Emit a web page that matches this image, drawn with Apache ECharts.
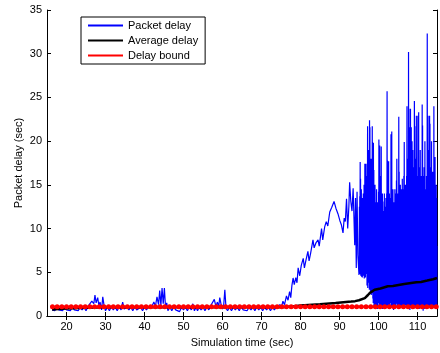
<!DOCTYPE html>
<html>
<head>
<meta charset="utf-8">
<script src="https://cdn.jsdelivr.net/npm/echarts@6/dist/echarts.min.js"></script>
<style>
html,body{margin:0;padding:0;background:#fff;}
#chart{width:440px;height:353px;}
</style>
</head>
<body>
<div id="chart"></div>
<script>
// x ticks / y ticks
const xTicks = [20, 30, 40, 50, 60, 70, 80, 90, 100, 110];
const yTicks = [0, 5, 10, 15, 20, 25, 30, 35];

// Packet delay, quiet period [time, delay]
const packetBase = [
 [16.3,0.7],[16.5,0.9],[17,0.6],[17.5,1.0],[18,0.7],[18.5,0.9],[19,0.6],[19.5,1.0],[20,0.7],[20.5,0.9],
 [21,0.6],[21.5,1.1],[22,0.7],[22.5,0.9],[23,0.6],[23.5,1.0],[24,0.7],[24.5,1.0],[25,0.6],[25.5,1.1],
 [26,1.3],[26.5,1.7],[27,1.4],[27.3,2.4],[27.6,1.5],[28,2.1],[28.3,1.2],[28.6,1.6],[29,0.7],[29.3,2.2],
 [29.6,1.3],[30,0.6],[30.5,1.0],[31,0.6],[31.5,1.1],[32,0.7],[32.5,1.0],[33,0.6],[33.5,1.1],[34,0.7],
 [34.4,1.6],[34.8,0.8],[35.2,0.6],[35.6,1.0],[36,0.7],[36.5,1.0],[37,0.6],[37.5,1.1],[38,0.7],[38.5,0.5],
 [39,1.0],[39.5,0.6],[40,1.0],[40.5,0.7],[41,1.0],[41.5,0.8],[42,1.2],[42.4,1.6],[42.8,1.1],[43.2,2.2],
 [43.6,1.3],[43.9,2.9],[44.2,1.2],[44.5,3.2],[44.8,1.4],[45.1,3.2],[45.4,0.9],[45.7,1.5],[46,0.6],[46.5,1.0],
 [47,0.6],[47.5,1.1],[48,0.7],[48.5,0.9],[49,0.5],[49.5,1.0],[50,0.7],[50.5,1.0],[51,0.6],[51.5,1.1],
 [52,0.7],[52.4,1.4],[52.8,0.6],[53.2,1.0],[53.6,0.6],[54,1.0],[54.5,0.7],[55,1.0],[55.5,0.6],[56,1.1],
 [56.5,0.7],[57,1.2],[57.5,1.0],[57.9,1.9],[58.3,1.1],[58.7,1.6],[59,1.0],[59.3,2.1],[59.7,1.2],[60,0.8],
 [60.3,1.2],[60.6,3.0],[60.9,0.9],[61.3,0.6],[61.8,1.0],[62.3,0.6],[62.8,1.0],[63.3,0.7],[63.8,1.0],[64.3,0.6],
 [64.8,1.1],[65.3,0.7],[65.8,0.9],[66.3,0.6],[66.8,1.0],[67.3,0.7],[67.8,1.0],[68.3,0.6],[68.8,1.1],[69.3,0.7],
 [69.8,1.0],[70.3,0.6],[70.8,1.0],[71.3,0.7],[71.8,1.0],[72.3,0.6],[72.8,1.0],[73.3,0.7],[73.8,1.0],[74.3,0.9],
 [74.7,1.3]
];

// Packet delay, ramp-up period
const packetRamp = [
 [75.1,1.0],[75.5,1.7],[75.9,1.3],[76.4,2.3],[76.8,1.8],[77.2,2.8],[77.5,2.1],[77.8,3.5],[78.1,4.35],[78.4,3.6],
 [78.8,4.4],[79.1,3.8],[79.4,5.5],[79.8,4.6],[80.2,5.8],[80.7,6.6],[81.0,5.5],[81.4,6.4],[81.9,7.4],[82.2,6.3],
 [82.6,7.2],[83.2,8.7],[83.5,7.8],[84.0,8.4],[84.5,8.7],[84.8,8.0],[85.4,10.0],[85.7,8.7],[86.2,10.2],[86.6,10.8],
 [87.0,10.3],[87.5,11.9],[88.0,12.4],[88.6,13.1],[89.1,12.3],[89.6,11.7],[90.1,10.9],[90.5,10.4],[90.9,9.5],[91.2,11.2],
 [91.5,10.8],[91.8,13.4],[92.1,10.0],[92.4,12.5],[92.6,15.3],[92.9,13.1],[93.2,12.0],[93.5,14.6],[93.9,8.1],[94.1,13.5],
 [94.3,5.5],[94.5,14.2],[94.7,7.0],[95.0,4.7]
];

// Packet delay, burst period: one value every 0.05 s from 95.05 s to 115.00 s
const burstStart = 95.05;
const burstStep = 0.05;
const burstDelays = [
 7.0,12.5,5.0,13.7,4.8,17.6,6.0,15.7,4.6,13.0,5.5,14.5,4.5,12.0,6.2,10.5,4.4,13.5,5.0,11.0,
 5.8,14.0,4.6,12.5,5.2,15.0,4.3,13.0,6.5,17.4,5.0,14.5,4.4,15.0,6.0,17.4,4.8,12.0,7.0,14.0,
 3.5,16.0,4.0,21.7,3.2,16.0,5.5,19.0,3.8,14.0,4.5,18.0,3.0,22.4,5.0,21.6,3.2,15.0,2.8,17.0,
 3.0,18.0,2.4,13.0,4.0,16.5,2.6,21.7,3.5,19.9,2.0,15.0,1.5,19.8,1.8,16.7,1.0,12.0,2.5,14.0,
 1.2,15.0,0.9,10.0,2.0,13.0,1.2,11.0,3.0,14.5,1.0,9.0,2.2,12.5,0.8,13.0,2.0,11.5,1.5,14.2,
 1.5,20.2,1.2,17.0,3.0,19.5,1.0,15.0,2.0,12.0,1.4,16.0,0.9,19.4,2.0,13.5,1.2,11.0,2.5,14.0,
 0.8,13.1,1.5,9.0,2.2,12.0,1.0,10.5,2.5,14.0,0.8,8.0,1.8,12.5,1.0,11.0,2.5,13.5,1.4,11.0,
 1.0,14.0,2.0,25.7,1.0,17.8,1.6,13.0,2.0,15.0,1.2,17.7,0.8,12.0,2.0,14.0,1.0,11.0,2.2,13.5,
 1.5,12.5,3.0,20.8,1.0,15.0,2.0,21.1,1.0,10.0,2.5,13.0,0.9,14.5,1.8,11.0,0.7,13.0,2.0,12.0,
 1.2,11.0,1.8,14.5,1.0,12.0,2.2,14.0,1.0,13.0,2.0,15.5,1.4,18.0,2.2,12.5,1.0,14.0,1.6,12.0,
 1.0,13.5,2.0,22.8,1.5,16.5,0.9,14.0,2.0,12.0,1.2,15.0,2.4,13.0,1.0,12.5,2.0,14.5,1.1,14.0,
 2.5,15.7,1.0,13.0,2.2,14.5,0.8,12.5,1.5,16.0,1.0,19.9,0.8,15.0,1.5,13.0,2.0,15.0,1.2,12.0,
 2.0,14.0,1.0,16.0,1.5,24.0,1.0,14.5,2.0,18.0,1.0,15.0,1.2,30.2,2.0,23.7,1.0,16.0,2.0,21.6,
 0.7,15.0,1.5,23.7,1.0,17.0,2.0,21.6,1.0,16.0,2.2,20.0,1.0,14.0,1.6,19.0,0.9,15.5,2.0,17.0,
 1.0,16.0,1.6,24.6,0.9,21.7,2.0,15.0,1.0,18.0,2.5,14.0,1.0,22.9,1.5,16.0,1.0,14.5,2.0,13.0,
 1.0,22.9,1.4,16.0,1.0,23.3,1.4,15.0,0.8,17.0,2.0,13.0,1.0,19.0,2.0,14.5,0.9,16.0,1.5,13.5,
 1.0,15.0,2.0,24.2,1.0,21.8,1.8,14.0,0.6,16.0,1.5,13.5,1.0,17.0,2.0,14.0,0.8,20.0,1.5,14.5,
 2.0,13.0,1.0,14.0,2.2,16.0,1.0,15.0,1.5,32.3,0.9,18.0,1.5,22.9,1.0,15.0,2.0,19.0,1.0,14.0,
 2.2,22.9,1.0,22.0,1.5,15.0,0.8,17.0,2.0,14.0,1.0,20.0,0.8,15.0,1.6,13.0,1.0,16.5,2.0,15.0,
 1.5,14.0,1.0,24.0,1.5,16.0,1.0,13.0,2.0,18.2,1.2,14.0,2.0,12.0,1.0,15.0,1.4,13.5,1.0,8.0
];

// Average delay [time, delay]
const averageDelay = [
 [16.3,0.75],[18,0.8],[20,0.85],[25,0.95],[30,1.0],[50,1.0],[75,1.0],[78,1.1],[80,1.2],[85,1.35],
 [89,1.48],[93,1.65],[94,1.7],[95,1.8],[96.5,2.05],[97.3,2.4],[97.8,2.65],[98.3,2.82],[99,3.0],[100.5,3.15],
 [102.4,3.4],[103.7,3.44],[106.6,3.67],[109.7,3.86],[110.9,3.9],[112.5,4.05],[114,4.2],[115,4.35]
];

// Delay bound
const boundTimes = [16.4,17.6,18.8,20.0,21.2,22.4,23.6,24.8,26.0,27.2,28.4,29.6,30.8,32.0,33.2,34.4,35.6,36.8,38.0,39.2,
 40.4,41.6,42.8,44.0,45.2,46.4,47.6,48.8,50.0,51.2,52.4,53.6,54.8,56.0,57.2,58.4,59.6,60.8,62.0,63.2,
 64.4,65.6,66.8,68.0,69.2,70.4,71.6,72.8,74.0,75.2,76.4,77.6,78.8,80.0,81.2,82.4,83.6,84.8,86.0,87.2,
 88.4,89.6,90.8,92.0,93.2,94.4,95.6,96.8,98.0,99.2,100.4,101.6,102.8,104.0,105.2,106.4,107.6,108.8,110.0,111.2,
 112.4,113.6,114.8];
const boundValue = 1.05;

const FONT = 'Liberation Sans, Arial, Helvetica, sans-serif';
const packetBurst = burstDelays.map((v, i) => [+(burstStart + i * burstStep).toFixed(2), v]);
const packetDelay = packetBase.concat(packetRamp, packetBurst);
const delayBound = boundTimes.map(t => [t, boundValue]);

const chart = echarts.init(document.getElementById('chart'), null, {renderer: 'canvas'});
const axisLineStyle = {color: '#000', width: 1};
chart.setOption({
  animation: false,
  backgroundColor: '#fff',
  textStyle: {fontFamily: FONT},
  grid: {left: 47, right: 3, top: 10, bottom: 35, containLabel: false},
  legend: {
    orient: 'vertical', left: 81, top: 17,
    padding: [2, 7, 2, 7], itemGap: 2, itemWidth: 35, itemHeight: 2,
    icon: 'rect',
    borderColor: '#000', borderWidth: 1, backgroundColor: '#fff',
    textStyle: {fontFamily: FONT, fontSize: 11, color: '#000', lineHeight: 13},
    data: ['Packet delay', 'Average delay', 'Delay bound']
  },
  xAxis: [{
    type: 'value', min: 15, max: 115, position: 'bottom',
    name: 'Simulation time (sec)', nameLocation: 'middle', nameGap: 21, nameMoveOverlap: false,
    nameTextStyle: {fontFamily: FONT, fontSize: 11, color: '#000'},
    axisLine: {show: true, lineStyle: axisLineStyle},
    axisTick: {show: true, inside: true, length: 4, customValues: xTicks, lineStyle: axisLineStyle},
    axisLabel: {show: true, margin: 5, fontFamily: FONT, fontSize: 11, color: '#000', customValues: xTicks},
    splitLine: {show: false}
  }, {
    type: 'value', min: 15, max: 115, position: 'top',
    axisLine: {show: true, lineStyle: axisLineStyle},
    axisTick: {show: true, inside: true, length: 4, customValues: xTicks, lineStyle: axisLineStyle},
    axisLabel: {show: false},
    splitLine: {show: false}
  }],
  yAxis: [{
    type: 'value', min: 0, max: 35, interval: 5, position: 'left',
    name: 'Packet delay (sec)', nameLocation: 'middle', nameGap: 23, nameMoveOverlap: false,
    nameTextStyle: {fontFamily: FONT, fontSize: 11, color: '#000'},
    axisLine: {show: true, lineStyle: axisLineStyle},
    axisTick: {show: true, inside: true, length: 4, customValues: yTicks, lineStyle: axisLineStyle},
    axisLabel: {show: true, margin: 5, fontFamily: FONT, fontSize: 11, color: '#000', customValues: yTicks},
    splitLine: {show: false}
  }, {
    type: 'value', min: 0, max: 35, interval: 5, position: 'right',
    axisLine: {show: true, lineStyle: axisLineStyle},
    axisTick: {show: true, inside: true, length: 4, lineStyle: axisLineStyle},
    axisLabel: {show: false},
    splitLine: {show: false}
  }],
  series: [{
    name: 'Packet delay', type: 'line', xAxisIndex: 0, yAxisIndex: 0,
    data: packetDelay, showSymbol: false, symbol: 'none', sampling: null,
    lineStyle: {color: '#0000ff', width: 1.2}, itemStyle: {color: '#0000ff'}, z: 2
  }, {
    name: 'Average delay', type: 'line', xAxisIndex: 0, yAxisIndex: 0,
    data: averageDelay, showSymbol: false, symbol: 'none',
    lineStyle: {color: '#000', width: 2.5}, itemStyle: {color: '#000'}, z: 3
  }, {
    name: 'Delay bound', type: 'line', xAxisIndex: 0, yAxisIndex: 0,
    data: delayBound, symbol: 'circle', symbolSize: 5, showSymbol: true,
    lineStyle: {color: '#ff0000', width: 2}, itemStyle: {color: '#ff0000'}, z: 4
  }]
});
</script>
</body>
</html>
